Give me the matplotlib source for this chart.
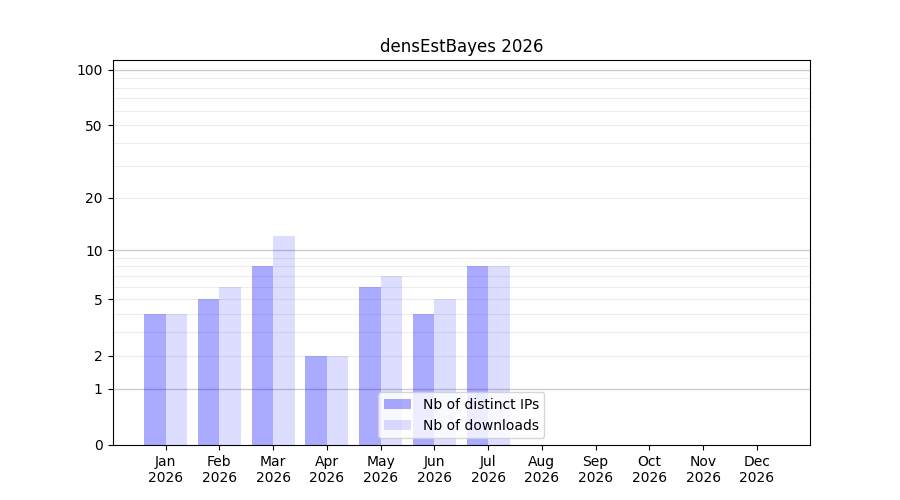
import numpy as np
import matplotlib
matplotlib.use("Agg")
import matplotlib.pyplot as plt

title = "densEstBayes 2026"
months = ["Jan", "Feb", "Mar", "Apr", "May", "Jun",
          "Jul", "Aug", "Sep", "Oct", "Nov", "Dec"]
year = "2026"
distinct_ips = [4, 5, 8, 2, 6, 4, 8]
downloads = [4, 6, 12, 2, 7, 5, 8]
yticks = [0, 1, 2, 5, 10, 20, 50, 100]
major_grid = [1, 10, 100]
minor_grid = [2, 3, 4, 5, 6, 7, 8, 9, 20, 30, 40, 50, 60, 70, 80, 90]


def fwd(y):
    return np.log10(1 + np.clip(y, 0, None))


def inv(y):
    return 10 ** y - 1


fig, ax = plt.subplots(figsize=(9, 5), dpi=100)
ax.set_yscale("function", functions=(fwd, inv))

x = np.arange(1, len(distinct_ips) + 1)
width = 0.4
ax.bar(x - width / 2, distinct_ips, width, color="blue", alpha=1 / 3,
       label="Nb of distinct IPs")
ax.bar(x + width / 2, downloads, width, color="blue", alpha=0.135,
       label="Nb of downloads")

for v in minor_grid:
    ax.axhline(v, color="0.93", linewidth=0.8, zorder=0.5)
for v in major_grid:
    ax.axhline(v, color="0.8", linewidth=1.0, zorder=0.5)

ax.set_xlim(0.01, 12.99)
ax.set_ylim(0, 113)
ax.set_yticks(yticks)
ax.set_yticklabels([str(t) for t in yticks])
ax.yaxis.set_minor_locator(matplotlib.ticker.NullLocator())
ax.set_xticks(np.arange(1, 13))
ax.set_xticklabels([f"{m}\n{year}" for m in months])
ax.set_title(title)
ax.legend(loc="lower center")

fig.savefig("out.png", dpi=100)
